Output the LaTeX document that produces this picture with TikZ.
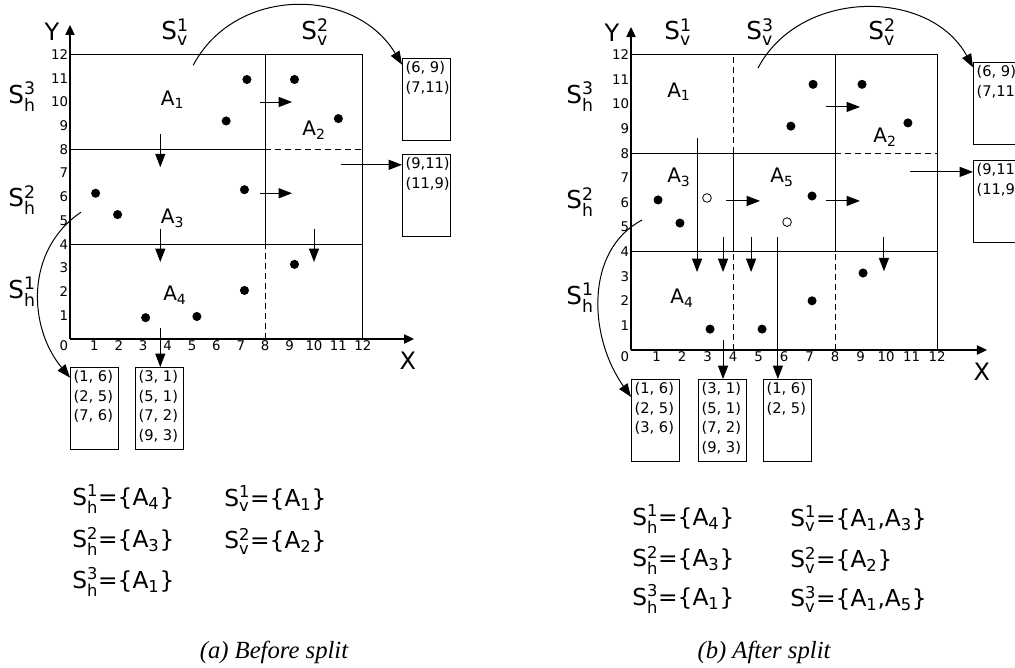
\documentclass[tikz,border=0pt]{standalone}
\usepackage{amsmath}
\usepackage{fontspec}
\setmainfont{DejaVu Sans}
\newfontfamily\capfont{Liberation Serif}
\usetikzlibrary{arrows.meta,positioning}

% S with stacked index and direction, A with index
\newcommand{\Sset}[2]{S$^{\text{#1}}_{\text{#2}}$}
\newcommand{\Ar}[1]{A$_{\text{#1}}$}

\tikzset{
  axis/.style={line width=0.8pt, -{Triangle[length=7.5pt,width=7pt]}},
  bound/.style={line width=0.75pt},
  cut/.style={line width=0.75pt, dash pattern=on 4.5pt off 3pt},
  move/.style={line width=0.75pt, -{Triangle[length=10pt,width=7.5pt]}},
  dot/.style={circle, fill, inner sep=0pt, minimum size=6.8pt},
  hollow/.style={circle, draw, fill=white, line width=0.6pt, inner sep=0pt, minimum size=6.5pt},
  tick/.style={font=\fontsize{10}{11}\selectfont, inner sep=1.2pt},
  axlab/.style={font=\fontsize{18}{20}\selectfont},
  area/.style={font=\fontsize{15}{17}\selectfont},
  setlab/.style={font=\fontsize{18.5}{20}\selectfont},
  setrow/.style={font=\fontsize{17.5}{19}\selectfont, anchor=west, inner sep=0pt},
  bucket/.style={draw, line width=0.75pt, anchor=north west, inner sep=0pt, minimum width=36pt, minimum height=61.5pt},
  entries/.style={anchor=north west, align=left, inner sep=2.5pt, font=\fontsize{11}{14.6}\selectfont},
  caption/.style={font=\capfont\itshape\fontsize{18.5}{20}\selectfont},
}

\begin{document}
\begin{tikzpicture}[x=0.75pt, y=-0.75pt]
\clip (0,0) rectangle (1015,668);

% ---------- (a) before split ----------
\begin{scope}[shift={(70,339)}, x=18.3pt, y=17.775pt]
  % axes
  \draw[axis] (0,0) -- (14.1,0);
  \draw[axis] (0,0) -- (0,13.25);
  \node[axlab] (aX) at (13.85,-0.9) {X};
  \node[axlab] (aY) at (-0.74,12.95) {Y};
  \foreach \i in {1,...,12} {
    \node[tick, anchor=east] (ay\i) at (0,\i) {\i};
    \node[tick, anchor=north] (ax\i) at (\i,0) {\i};
  }
  \node[tick, anchor=north east] (ax0) at (0,0) {0};
  % regions
  \draw[bound] (0,0) rectangle (12,12);
  \draw[bound] (0,8) -- (8,8) (0,4) -- (12,4) (8,4) -- (8,12);
  \draw[cut] (8,8) -- (12,8) (8,0) -- (8,4);
  \node[area] (aA1) at (4.2,10.1) {\Ar{1}};
  \node[area] (aA2) at (10.0,8.8) {\Ar{2}};
  \node[area] (aA3) at (4.2,5.1) {\Ar{3}};
  \node[area] (aA4) at (4.3,1.85) {\Ar{4}};
  % points
  \foreach \p [count=\k] in {(6.4,9.2),(7.25,10.95),(9.2,10.95),(11.0,9.3),
      (1.05,6.15),(1.95,5.25),(7.15,6.3),(3.1,0.9),(5.2,0.95),(7.15,2.05),(9.2,3.15)}
    \node[dot] (ap\k) at \p {};
  % moves between regions
  \coordinate (ar1a) at (7.8,10);    \coordinate (ar1b) at (9.1,10);
  \coordinate (ar2a) at (7.8,6.15);  \coordinate (ar2b) at (9.1,6.15);
  \coordinate (ad1a) at (3.7,8.65);  \coordinate (ad1b) at (3.7,7.25);
  \coordinate (ad2a) at (3.7,4.65);  \coordinate (ad2b) at (3.7,3.25);
  \coordinate (ad3a) at (10.0,4.65); \coordinate (ad3b) at (10.0,3.25);
  \coordinate (ad4a) at (3.7,0.45);
  \coordinate (aL1) at (11.1,7.35);
  \coordinate (aC1) at (5.05,11.55);
  \coordinate (aC2) at (0.45,5.35);
  \foreach \m in {ar1,ar2,ad1,ad2,ad3}
    \draw[move] (\m a) -- (\m b);
\end{scope}

\node[setlab] (aSv1) at (175,32) {\Sset{1}{v}};
\node[setlab] (aSv2) at (315,32) {\Sset{2}{v}};
\node[setlab] (aSh3) at (22,97) {\Sset{3}{h}};
\node[setlab] (aSh2) at (22,200) {\Sset{2}{h}};
\node[setlab] (aSh1) at (22,292) {\Sset{1}{h}};

% buckets
\node[bucket] (aT1) at (402,58) {};
\node[entries] (aT1e) at (aT1.north west) {(6, 9)\\(7,11)};
\node[bucket] (aT2) at (402,154) {};
\node[entries] (aT2e) at (aT2.north west) {(9,11)\\(11,9)};
\node[bucket] (aB1) at (70,367) {};
\node[entries] (aB1e) at (aB1.north west) {(1, 6)\\(2, 5)\\(7, 6)};
\node[bucket] (aB2) at (135,367) {};
\node[entries] (aB2e) at (aB2.north west) {(3, 1)\\(5, 1)\\(7, 2)\\(9, 3)};

\draw[move] (ad4a) -- (ad4a |- aB2.north);
\draw[move] (aL1) -- (aL1 -| aT2.west);
\draw[move] (aC1) .. controls (235,-14) and (355,-14) .. ([yshift=-5pt]aT1.north west);
\draw[move] (aC2) .. controls (25,250) and (28,327) .. ([yshift=-8pt]aB1.north west);

\node[setrow] (aR1) at (72,499) {\Sset{1}{h}=\{\Ar{4}\}};
\node[setrow] (aR2) at (72,541) {\Sset{2}{h}=\{\Ar{3}\}};
\node[setrow] (aR3) at (72,582) {\Sset{3}{h}=\{\Ar{1}\}};
\node[setrow] (aR4) at (224,499) {\Sset{1}{v}=\{\Ar{1}\}};
\node[setrow] (aR5) at (224,541) {\Sset{2}{v}=\{\Ar{2}\}};
\node[caption] (capA) at (274,652) {(a) Before split};

% ---------- (b) after split ----------
\begin{scope}[shift={(631,350)}, x=19.125pt, y=18.45pt]
  % axes
  \draw[axis] (0,0) -- (13.96,0);
  \draw[axis] (0,0) -- (0,13.13);
  \node[axlab] (bX) at (13.76,-0.89) {X};
  \node[axlab] (bY) at (-0.75,12.89) {Y};
  \foreach \i in {1,...,12} {
    \node[tick, anchor=east] (by\i) at (0,\i) {\i};
    \node[tick, anchor=north] (bx\i) at (\i,0) {\i};
  }
  \node[tick, anchor=north east] (bx0) at (0,0) {0};
  % regions
  \draw[bound] (0,0) rectangle (12,12);
  \draw[bound] (0,8) -- (8,8) (0,4) -- (12,4) (8,4) -- (8,12) (4,4) -- (4,8);
  \draw[cut] (8,8) -- (12,8) (8,0) -- (8,4) (4,8) -- (4,12) (4,0) -- (4,4);
  \node[area] (bA1) at (1.88,10.5) {\Ar{1}};
  \node[area] (bA2) at (9.96,8.66) {\Ar{2}};
  \node[area] (bA3) at (1.88,7.03) {\Ar{3}};
  \node[area] (bA5) at (5.92,7.03) {\Ar{5}};
  \node[area] (bA4) at (2.0,2.11) {\Ar{4}};
  % points
  \foreach \p [count=\k] in {(6.27,9.1),(7.14,10.8),(9.06,10.8),(10.86,9.23),
      (1.06,6.1),(1.92,5.16),(7.1,6.26),(3.1,0.85),(5.14,0.85),(7.1,2.0),(9.1,3.13)}
    \node[dot] (bp\k) at \p {};
  \node[hollow] (bq1) at (2.98,6.18) {};
  \node[hollow] (bq2) at (6.12,5.2) {};
  % moves between regions
  \coordinate (br1a) at (7.65,9.88); \coordinate (br1b) at (8.98,9.88);
  \coordinate (br2a) at (3.73,6.06); \coordinate (br2b) at (5.06,6.06);
  \coordinate (br3a) at (7.65,6.06); \coordinate (br3b) at (8.98,6.06);
  \coordinate (bd1a) at (2.59,8.62); \coordinate (bd1b) at (2.59,3.17);
  \coordinate (bd2a) at (3.61,4.59); \coordinate (bd2b) at (3.61,3.17);
  \coordinate (bd3a) at (4.71,4.59); \coordinate (bd3b) at (4.71,3.17);
  \coordinate (bd4a) at (9.92,4.59); \coordinate (bd4b) at (9.92,3.2);
  \coordinate (bd5a) at (5.76,4.59);
  \coordinate (bd6a) at (3.61,0.41);
  \coordinate (bL1) at (10.94,7.24);
  \coordinate (bC1) at (4.98,11.46);
  \coordinate (bC2) at (0.43,5.28);
  \foreach \m in {br1,br2,br3,bd1,bd2,bd3,bd4}
    \draw[move] (\m a) -- (\m b);
\end{scope}

\node[setlab] (bSv1) at (678,32) {\Sset{1}{v}};
\node[setlab] (bSv3) at (760,32) {\Sset{3}{v}};
\node[setlab] (bSv2) at (882,32) {\Sset{2}{v}};
\node[setlab] (bSh3) at (580,97) {\Sset{3}{h}};
\node[setlab] (bSh2) at (580,202) {\Sset{2}{h}};
\node[setlab] (bSh1) at (580,298) {\Sset{1}{h}};

% buckets
\begin{scope}[every node/.append style={minimum width=37.5pt, minimum height=63.5pt}]
  \node[bucket] (bT1) at (973,62) {};
  \node[bucket] (bT2) at (973,160) {};
  \node[bucket] (bB1) at (631,379) {};
  \node[bucket] (bB2) at (698,379) {};
  \node[bucket] (bB3) at (763,379) {};
\end{scope}
\node[entries] (bT1e) at (bT1.north west) {(6, 9)\\(7,11)};
\node[entries] (bT2e) at (bT2.north west) {(9,11)\\(11,9)};
\node[entries] (bB1e) at (bB1.north west) {(1, 6)\\(2, 5)\\(3, 6)};
\node[entries] (bB2e) at (bB2.north west) {(3, 1)\\(5, 1)\\(7, 2)\\(9, 3)};
\node[entries] (bB3e) at (bB3.north west) {(1, 6)\\(2, 5)};

\draw[move] (bd5a) -- (bd5a |- bB3.north);
\draw[move] (bd6a) -- (bd6a |- bB2.north);
\draw[move] (bL1) -- (bL1 -| bT2.west);
\draw[move] (bC1) .. controls (800,-12) and (930,-12) .. ([yshift=-4pt]bT1.north west);
\draw[move] (bC2) .. controls (585,250) and (588,336) .. ([yshift=-13.5pt]bB1.north west);

\node[setrow] (bR1) at (632,519) {\Sset{1}{h}=\{\Ar{4}\}};
\node[setrow] (bR2) at (632,560) {\Sset{2}{h}=\{\Ar{3}\}};
\node[setrow] (bR3) at (632,599) {\Sset{3}{h}=\{\Ar{1}\}};
\node[setrow] (bR4) at (790,519) {\Sset{1}{v}=\{\Ar{1},\Ar{3}\}};
\node[setrow] (bR5) at (790,560) {\Sset{2}{v}=\{\Ar{2}\}};
\node[setrow] (bR6) at (790,599) {\Sset{3}{v}=\{\Ar{1},\Ar{5}\}};
\node[caption] (capB) at (764,652) {(b) After split};
\end{tikzpicture}
\end{document}
